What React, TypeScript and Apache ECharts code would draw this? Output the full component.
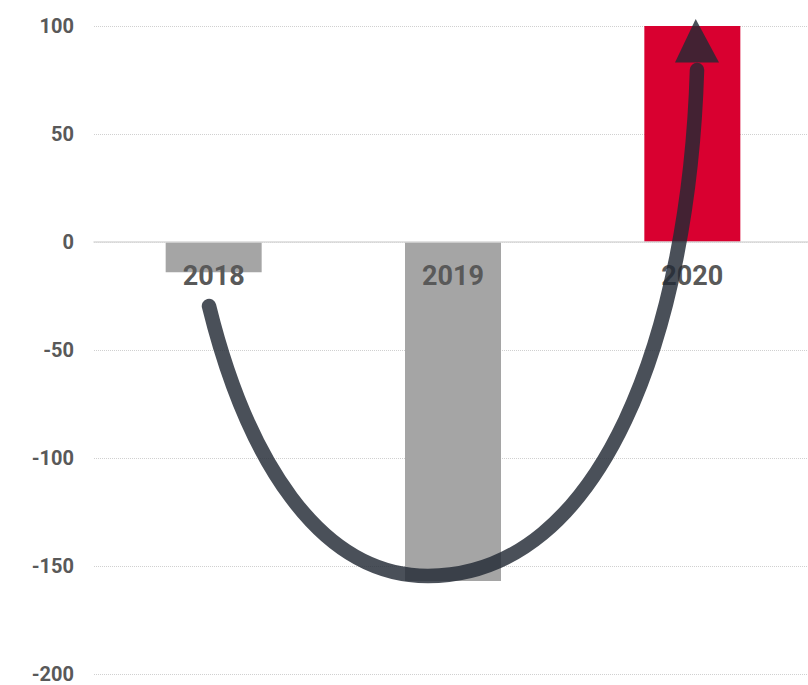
import React, { useEffect, useRef } from "react";
import * as echarts from "echarts";

const categories = ["2018", "2019", "2020"];
const values = [-14, -157, 100];
const barColors = ["#a5a5a5", "#a5a5a5", "#d90030"];
const yMin = -200;
const yMax = 100;
const yStep = 50;

const CURVE_D = "M209 306 C246 456 318 576 428 576 C603 576 689 330 697 70";
let registered = false;

const GRID_TOP = 26;
const GRID_BOTTOM = 11;
const PLOT_H = 685 - GRID_TOP - GRID_BOTTOM;
// distance from the bottom of the plot up to the value 0
const zeroOffset = (PLOT_H * (0 - yMin)) / (yMax - yMin);

export default function App() {
  const ref = useRef<HTMLDivElement>(null);
  useEffect(() => {
    document.body.style.margin = "0";
    if (!registered) {
      echarts.graphic.registerShape("arrowCurve", echarts.graphic.extendPath(CURVE_D, {}));
      registered = true;
    }
    const chart = echarts.init(ref.current!, null, { renderer: "svg" });
    const arrowColor = "rgba(34,42,53,0.82)";
    chart.setOption({
      animation: false,
      backgroundColor: "#ffffff",
      grid: {
        left: 94,
        right: -4,
        top: GRID_TOP,
        bottom: GRID_BOTTOM,
        containLabel: false,
        outerBoundsMode: "none",
      },
      xAxis: {
        type: "category",
        data: categories,
        z: 10,
        position: "bottom",
        offset: -zeroOffset,
        axisTick: { show: false },
        axisLine: { show: true, onZero: false, lineStyle: { color: "#d9d9d9", width: 1.5 } },
        axisLabel: {
          margin: 20,
          color: "#595959",
          fontSize: 27,
          fontWeight: "bold",
          fontFamily: "Roboto",
        },
        splitLine: { show: false },
      },
      yAxis: {
        type: "value",
        min: yMin,
        max: yMax,
        interval: yStep,
        axisLine: { show: false },
        axisTick: { show: false },
        axisLabel: {
          margin: 20,
          color: "#595959",
          fontSize: 20,
          fontWeight: "bold",
          fontFamily: "Roboto",
        },
        splitLine: { show: true, lineStyle: { color: "#d0d0d0", type: "dotted", width: 1 } },
      },
      series: [
        {
          type: "bar",
          barWidth: 96,
          data: values.map((v, i) => ({ value: v, itemStyle: { color: barColors[i] } })),
        },
      ],
      graphic: [
        {
          type: "arrowCurve",
          x: 0,
          y: 0,
          z: 100,
          style: { fill: "none", stroke: arrowColor, lineWidth: 14.5, lineCap: "round" },
        },
        {
          type: "polygon",
          z: 100,
          shape: { points: [[675, 62.5], [719, 62.5], [695.7, 19]] },
          style: { fill: arrowColor },
        },
      ],
    });
    return () => chart.dispose();
  }, []);
  return <div ref={ref} style={{ width: 808, height: 685 }} />;
}
